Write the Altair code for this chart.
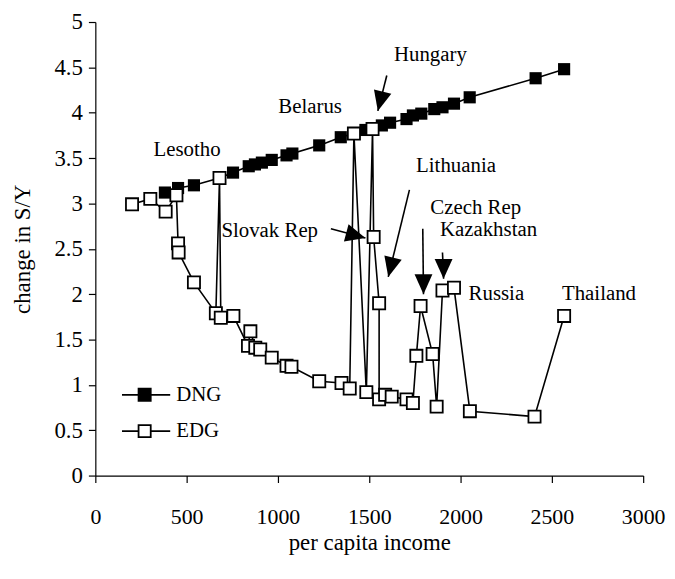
import altair as alt
import pandas as pd

# DNG series (filled squares)
dng_x = [381, 453, 540, 680, 754, 840, 874, 912, 966, 1047, 1079, 1226, 1344, 1416,
         1479, 1518, 1569, 1614, 1704, 1739, 1785, 1856, 1901, 1964, 2050, 2411, 2567]
dng_y = [3.12, 3.17, 3.20, 3.28, 3.34, 3.41, 3.43, 3.45, 3.48, 3.53, 3.55, 3.64, 3.73, 3.77,
         3.81, 3.82, 3.86, 3.89, 3.93, 3.97, 3.99, 4.04, 4.06, 4.10, 4.17, 4.38, 4.48]

# EDG series (open squares), in drawing order
edg_x = [201, 301, 385, 444, 453, 456, 540, 660, 680, 687, 756, 836, 849, 876, 903, 966,
         1047, 1074, 1226, 1348, 1393, 1416, 1484, 1518, 1524, 1554, 1554, 1587, 1623, 1704,
         1739, 1758, 1781, 1847, 1869, 1901, 1964, 2051, 2405, 2567]
edg_y = [2.99, 3.05, 2.91, 3.09, 2.56, 2.46, 2.13, 1.79, 3.28, 1.74, 1.76, 1.43, 1.59, 1.41,
         1.39, 1.30, 1.21, 1.20, 1.04, 1.02, 0.96, 3.77, 0.92, 3.82, 2.63, 1.90, 0.84, 0.89,
         0.87, 0.84, 0.80, 1.32, 1.87, 1.34, 0.76, 2.04, 2.07, 0.71, 0.65, 1.76]

# Country annotations
lab_text = ["Hungary", "Belarus", "Lesotho", "Lithuania", "Czech Rep", "Kazakhstan",
            "Slovak Rep", "Russia", "Thailand"]
lab_x = [1835, 1176, 502, 1975, 2083, 2153, 955, 2196, 2758]
lab_y = [4.64, 4.06, 3.59, 3.41, 2.95, 2.71, 2.70, 2.00, 2.00]

# Arrows: start point, tip point, direction angle (degrees, clockwise from up)
arr_x0 = [1596, 1720, 1793, 1901, 1290]
arr_y0 = [4.41, 3.15, 2.72, 2.46, 2.72]
arr_x1 = [1547, 1604, 1797, 1907, 1479]
arr_y1 = [4.02, 2.19, 2.00, 2.17, 2.62]
arr_ang = [194, 194, 180, 180, 105]

# Legend
leg_name = ["DNG", "EDG"]
leg_y = [0.89, 0.49]
leg_x0 = [146, 146]
leg_x1 = [410, 410]
leg_xm = [270, 270]
leg_xt = [443, 443]
leg_fill = ["black", "white"]

FONT = "Liberation Serif"
FS = 21
AFS = 23

dng = pd.DataFrame({"x": dng_x, "y": dng_y, "i": range(len(dng_x))})
edg = pd.DataFrame({"x": edg_x, "y": edg_y, "i": range(len(edg_x))})
labs = pd.DataFrame({"t": lab_text, "x": lab_x, "y": lab_y})
arr = pd.DataFrame({"x0": arr_x0, "y0": arr_y0, "x1": arr_x1, "y1": arr_y1, "a": arr_ang})
leg = pd.DataFrame({"n": leg_name, "y": leg_y, "x0": leg_x0, "x1": leg_x1,
                    "xm": leg_xm, "xt": leg_xt, "f": leg_fill})

xs = alt.Scale(domain=[0, 3000], nice=False)
ys = alt.Scale(domain=[0, 5], nice=False)

X = alt.X("x:Q", scale=xs, title="per capita income",
          axis=alt.Axis(values=[0, 500, 1000, 1500, 2000, 2500, 3000], format="d",
                        labelFontSize=22, labelFlush=False, labelPadding=24,
                        titlePadding=4))
Y = alt.Y("y:Q", scale=ys, title="change in S/Y",
          axis=alt.Axis(values=[0, 0.5, 1, 1.5, 2, 2.5, 3, 3.5, 4, 4.5, 5], format="~g",
                        labelFlush=False, labelPadding=6, titlePadding=20))

dng_line = alt.Chart(dng).mark_line(color="black", strokeWidth=1.6).encode(x=X, y=Y, order="i:Q")
dng_pts = alt.Chart(dng).mark_point(shape="square", filled=True, color="black", size=150,
                                    opacity=1).encode(x="x:Q", y="y:Q")
edg_line = alt.Chart(edg).mark_line(color="black", strokeWidth=1.6).encode(x="x:Q", y="y:Q",
                                                                        order="i:Q")
edg_pts = alt.Chart(edg).mark_point(shape="square", fill="white", stroke="black",
                                    strokeWidth=1.8, size=150, opacity=1,
                                    fillOpacity=1).encode(x="x:Q", y="y:Q")

texts = alt.Chart(labs).mark_text(font=FONT, fontSize=FS, color="black",
                                  align="center", baseline="middle").encode(
    x="x:Q", y="y:Q", text="t:N")

arr_lines = alt.Chart(arr).mark_rule(color="black", strokeWidth=1.6).encode(
    x="x0:Q", y="y0:Q", x2="x1:Q", y2="y1:Q")
arr_heads = alt.Chart(arr).mark_point(shape="M0,0L0.45,1L-0.45,1Z", filled=True,
                                      color="black", size=1600, opacity=1).encode(
    x="x1:Q", y="y1:Q", angle=alt.Angle("a:Q", scale=None))

leg_lines = alt.Chart(leg).mark_rule(color="black", strokeWidth=1.6).encode(
    x="x0:Q", x2="x1:Q", y="y:Q")
leg_pts = alt.Chart(leg).mark_point(shape="square", stroke="black", strokeWidth=1.8,
                                    size=150, opacity=1, fillOpacity=1).encode(
    x="xm:Q", y="y:Q", fill=alt.Fill("f:N", scale=None))
leg_text = alt.Chart(leg).mark_text(font=FONT, fontSize=FS, color="black", align="left",
                                    baseline="middle").encode(x="xt:Q", y="y:Q", text="n:N")

chart = alt.layer(
    dng_line, dng_pts, edg_line, edg_pts, arr_lines, arr_heads, texts,
    leg_lines, leg_pts, leg_text
).properties(
    width=552, height=457,
    padding={"left": 88, "top": 12, "right": 24, "bottom": 90},
    autosize=alt.AutoSizeParams(type="none"),
    background="white",
).configure_view(stroke=None).configure_axis(
    grid=False, domainColor="black", domainWidth=1.2, tickColor="black", tickWidth=1.2,
    tickSize=7, labelFont=FONT, labelFontSize=AFS, labelColor="black",
    titleFont=FONT, titleFontSize=AFS, titleFontWeight="normal", titleColor="black",
)

chart.save("out.html", embed_options={"renderer": "svg", "actions": False})
